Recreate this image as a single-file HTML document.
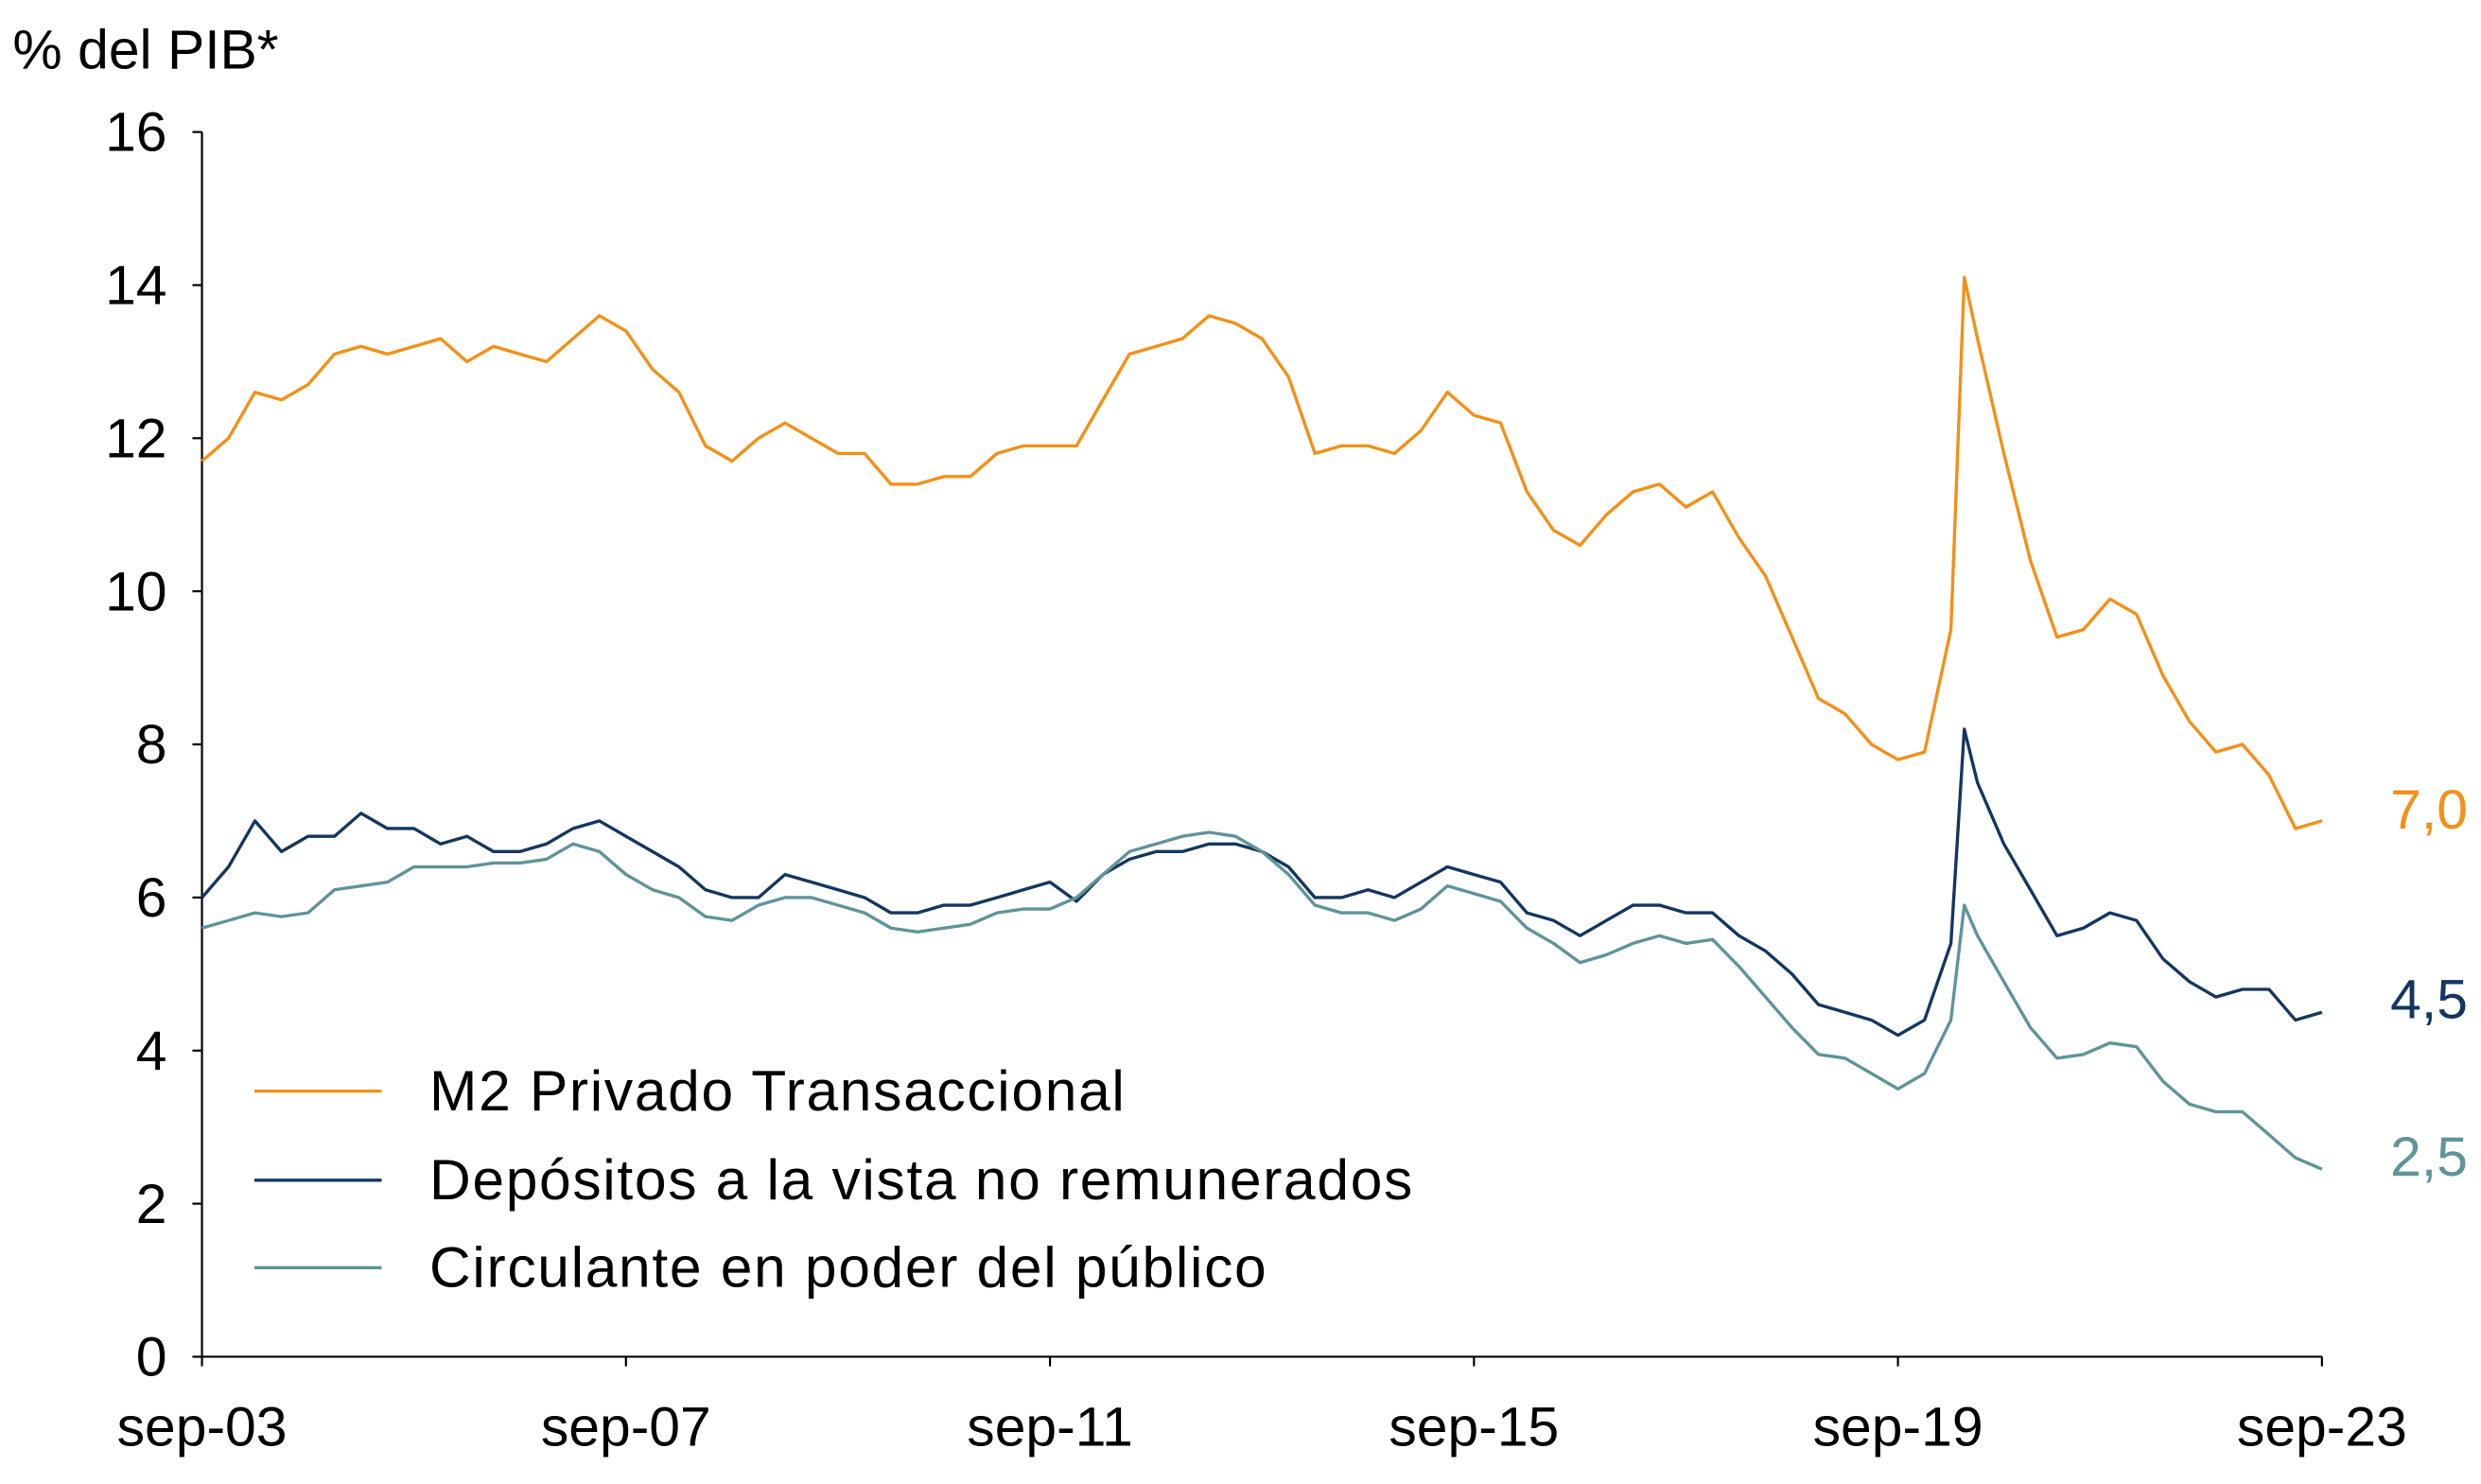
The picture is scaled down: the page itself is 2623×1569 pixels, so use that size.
<!DOCTYPE html>
<html><head><meta charset="utf-8"><style>
html,body{margin:0;padding:0;background:#fff}
svg{display:block}
text{font-family:"Liberation Sans",sans-serif}
</style></head><body>
<svg id="chart" width="2623" height="1569" viewBox="0 0 1560 933" preserveAspectRatio="none" xmlns="http://www.w3.org/2000/svg">
<text x="8" y="43" font-size="35" fill="#000">% del PIB*</text>
<g id="axes"></g>
<g id="series"></g>
<g id="legend"></g>
</svg>
<script>
const dates=[2003.75,2004,2004.25,2004.5,2004.75,2005,2005.25,2005.5,2005.75,2006,2006.25,2006.5,2006.75,2007,2007.25,2007.5,2007.75,2008,2008.25,2008.5,2008.75,2009,2009.25,2009.5,2009.75,2010,2010.25,2010.5,2010.75,2011,2011.25,2011.5,2011.75,2012,2012.25,2012.5,2012.75,2013,2013.25,2013.5,2013.75,2014,2014.25,2014.5,2014.75,2015,2015.25,2015.5,2015.75,2016,2016.25,2016.5,2016.75,2017,2017.25,2017.5,2017.75,2018,2018.25,2018.5,2018.75,2019,2019.25,2019.5,2019.75,2020,2020.25,2020.375,2020.5,2020.75,2021,2021.25,2021.5,2021.75,2022,2022.25,2022.5,2022.75,2023,2023.25,2023.5,2023.75];
const m2=[11.7,12.0,12.6,12.5,12.7,13.1,13.2,13.1,13.2,13.3,13.0,13.2,13.1,13.0,13.3,13.6,13.4,12.9,12.6,11.9,11.7,12.0,12.2,12.0,11.8,11.8,11.4,11.4,11.5,11.5,11.8,11.9,11.9,11.9,12.5,13.1,13.2,13.3,13.6,13.5,13.3,12.8,11.8,11.9,11.9,11.8,12.1,12.6,12.3,12.2,11.3,10.8,10.6,11.0,11.3,11.4,11.1,11.3,10.7,10.2,9.4,8.6,8.4,8.0,7.8,7.9,9.5,14.1,13.3,11.8,10.4,9.4,9.5,9.9,9.7,8.9,8.3,7.9,8.0,7.6,6.9,7.0];
const depositos=[6.0,6.4,7.0,6.6,6.8,6.8,7.1,6.9,6.9,6.7,6.8,6.6,6.6,6.7,6.9,7.0,6.8,6.6,6.4,6.1,6.0,6.0,6.3,6.2,6.1,6.0,5.8,5.8,5.9,5.9,6.0,6.1,6.2,5.95,6.3,6.5,6.6,6.6,6.7,6.7,6.6,6.4,6.0,6.0,6.1,6.0,6.2,6.4,6.3,6.2,5.8,5.7,5.5,5.7,5.9,5.9,5.8,5.8,5.5,5.3,5.0,4.6,4.5,4.4,4.2,4.4,5.4,8.2,7.5,6.7,6.1,5.5,5.6,5.8,5.7,5.2,4.9,4.7,4.8,4.8,4.4,4.5];
const circulante=[5.6,5.7,5.8,5.75,5.8,6.1,6.15,6.2,6.4,6.4,6.4,6.45,6.45,6.5,6.7,6.6,6.3,6.1,6.0,5.75,5.7,5.9,6.0,6.0,5.9,5.8,5.6,5.55,5.6,5.65,5.8,5.85,5.85,6.0,6.3,6.6,6.7,6.8,6.85,6.8,6.6,6.3,5.9,5.8,5.8,5.7,5.85,6.15,6.05,5.95,5.6,5.4,5.15,5.25,5.4,5.5,5.4,5.45,5.1,4.7,4.3,3.95,3.9,3.7,3.5,3.7,4.4,5.9,5.5,4.9,4.3,3.9,3.95,4.1,4.05,3.6,3.3,3.2,3.2,2.9,2.6,2.45];
const yTicks=[0,2,4,6,8,10,12,14,16];
const xTickYears=[2003.75,2007.75,2011.75,2015.75,2019.75,2023.75];
const xTickLabels=["sep-03","sep-07","sep-11","sep-15","sep-19","sep-23"];
const seriesNames=["M2 Privado Transaccional","Depósitos a la vista no remunerados","Circulante en poder del público"];
const endLabels=["7,0","4,5","2,5"];

const NS="http://www.w3.org/2000/svg";
const X0=127,X1=1460,Y0=853,Y16=83;
const xs=d=>X0+(d-2003.75)/20*(X1-X0);
const ys=v=>Y0-v/16*(Y0-Y16);
function mk(tag,attrs,parent){const e=document.createElementNS(NS,tag);for(const k in attrs)e.setAttribute(k,attrs[k]);parent.appendChild(e);return e;}
const axes=document.getElementById('axes');
let e=mk('line',{x1:X0,y1:Y16,x2:X0,y2:Y0,stroke:'#000','stroke-width':1.3},axes);


e=mk('line',{x1:X0,y1:Y0,x2:X1,y2:Y0,stroke:'#000','stroke-width':1.3},axes);


yTicks.forEach(v=>{
  mk('line',{x1:X0-6,y1:ys(v),x2:X0,y2:ys(v),stroke:'#000','stroke-width':1.3},axes);
  const t=mk('text',{x:105,y:ys(v)+12,'font-size':35,'text-anchor':'end',fill:'#000'},axes);
  t.textContent=v;
  
  
});
xTickYears.forEach((d,i)=>{
  mk('line',{x1:xs(d),y1:Y0,x2:xs(d),y2:Y0+6,stroke:'#000','stroke-width':1.3},axes);
  const t=mk('text',{x:xs(d),y:909,'font-size':35,'text-anchor':'middle',fill:'#000'},axes);
  t.textContent=xTickLabels[i];
  
  
});
const colors=['#f39018','#15365f','#5f9498'];
const data=[m2,depositos,circulante];
const sg=document.getElementById('series');
data.forEach((arr,i)=>{
  const p=mk('polyline',{points:arr.map((v,j)=>xs(dates[j]).toFixed(1)+','+ys(v).toFixed(1)).join(' '),fill:'none',stroke:colors[i],'stroke-width':2,'stroke-linejoin':'round'},sg);
  
  
  const t=mk('text',{x:1503,y:[521,640,739][i],'font-size':35,fill:colors[i]},sg);
  t.textContent=endLabels[i];
  
  
});
const lg=document.getElementById('legend');
[686,742,797].forEach((y,i)=>{
  const g=mk('g',{},lg);
  
  
  mk('line',{x1:160,y1:y,x2:240,y2:y,stroke:colors[i],'stroke-width':2},g);
  const t=mk('text',{x:270,y:y+12,'font-size':36,fill:'#000','letter-spacing':'1'},g);
  t.textContent=seriesNames[i];
});
</script>
</body></html>
